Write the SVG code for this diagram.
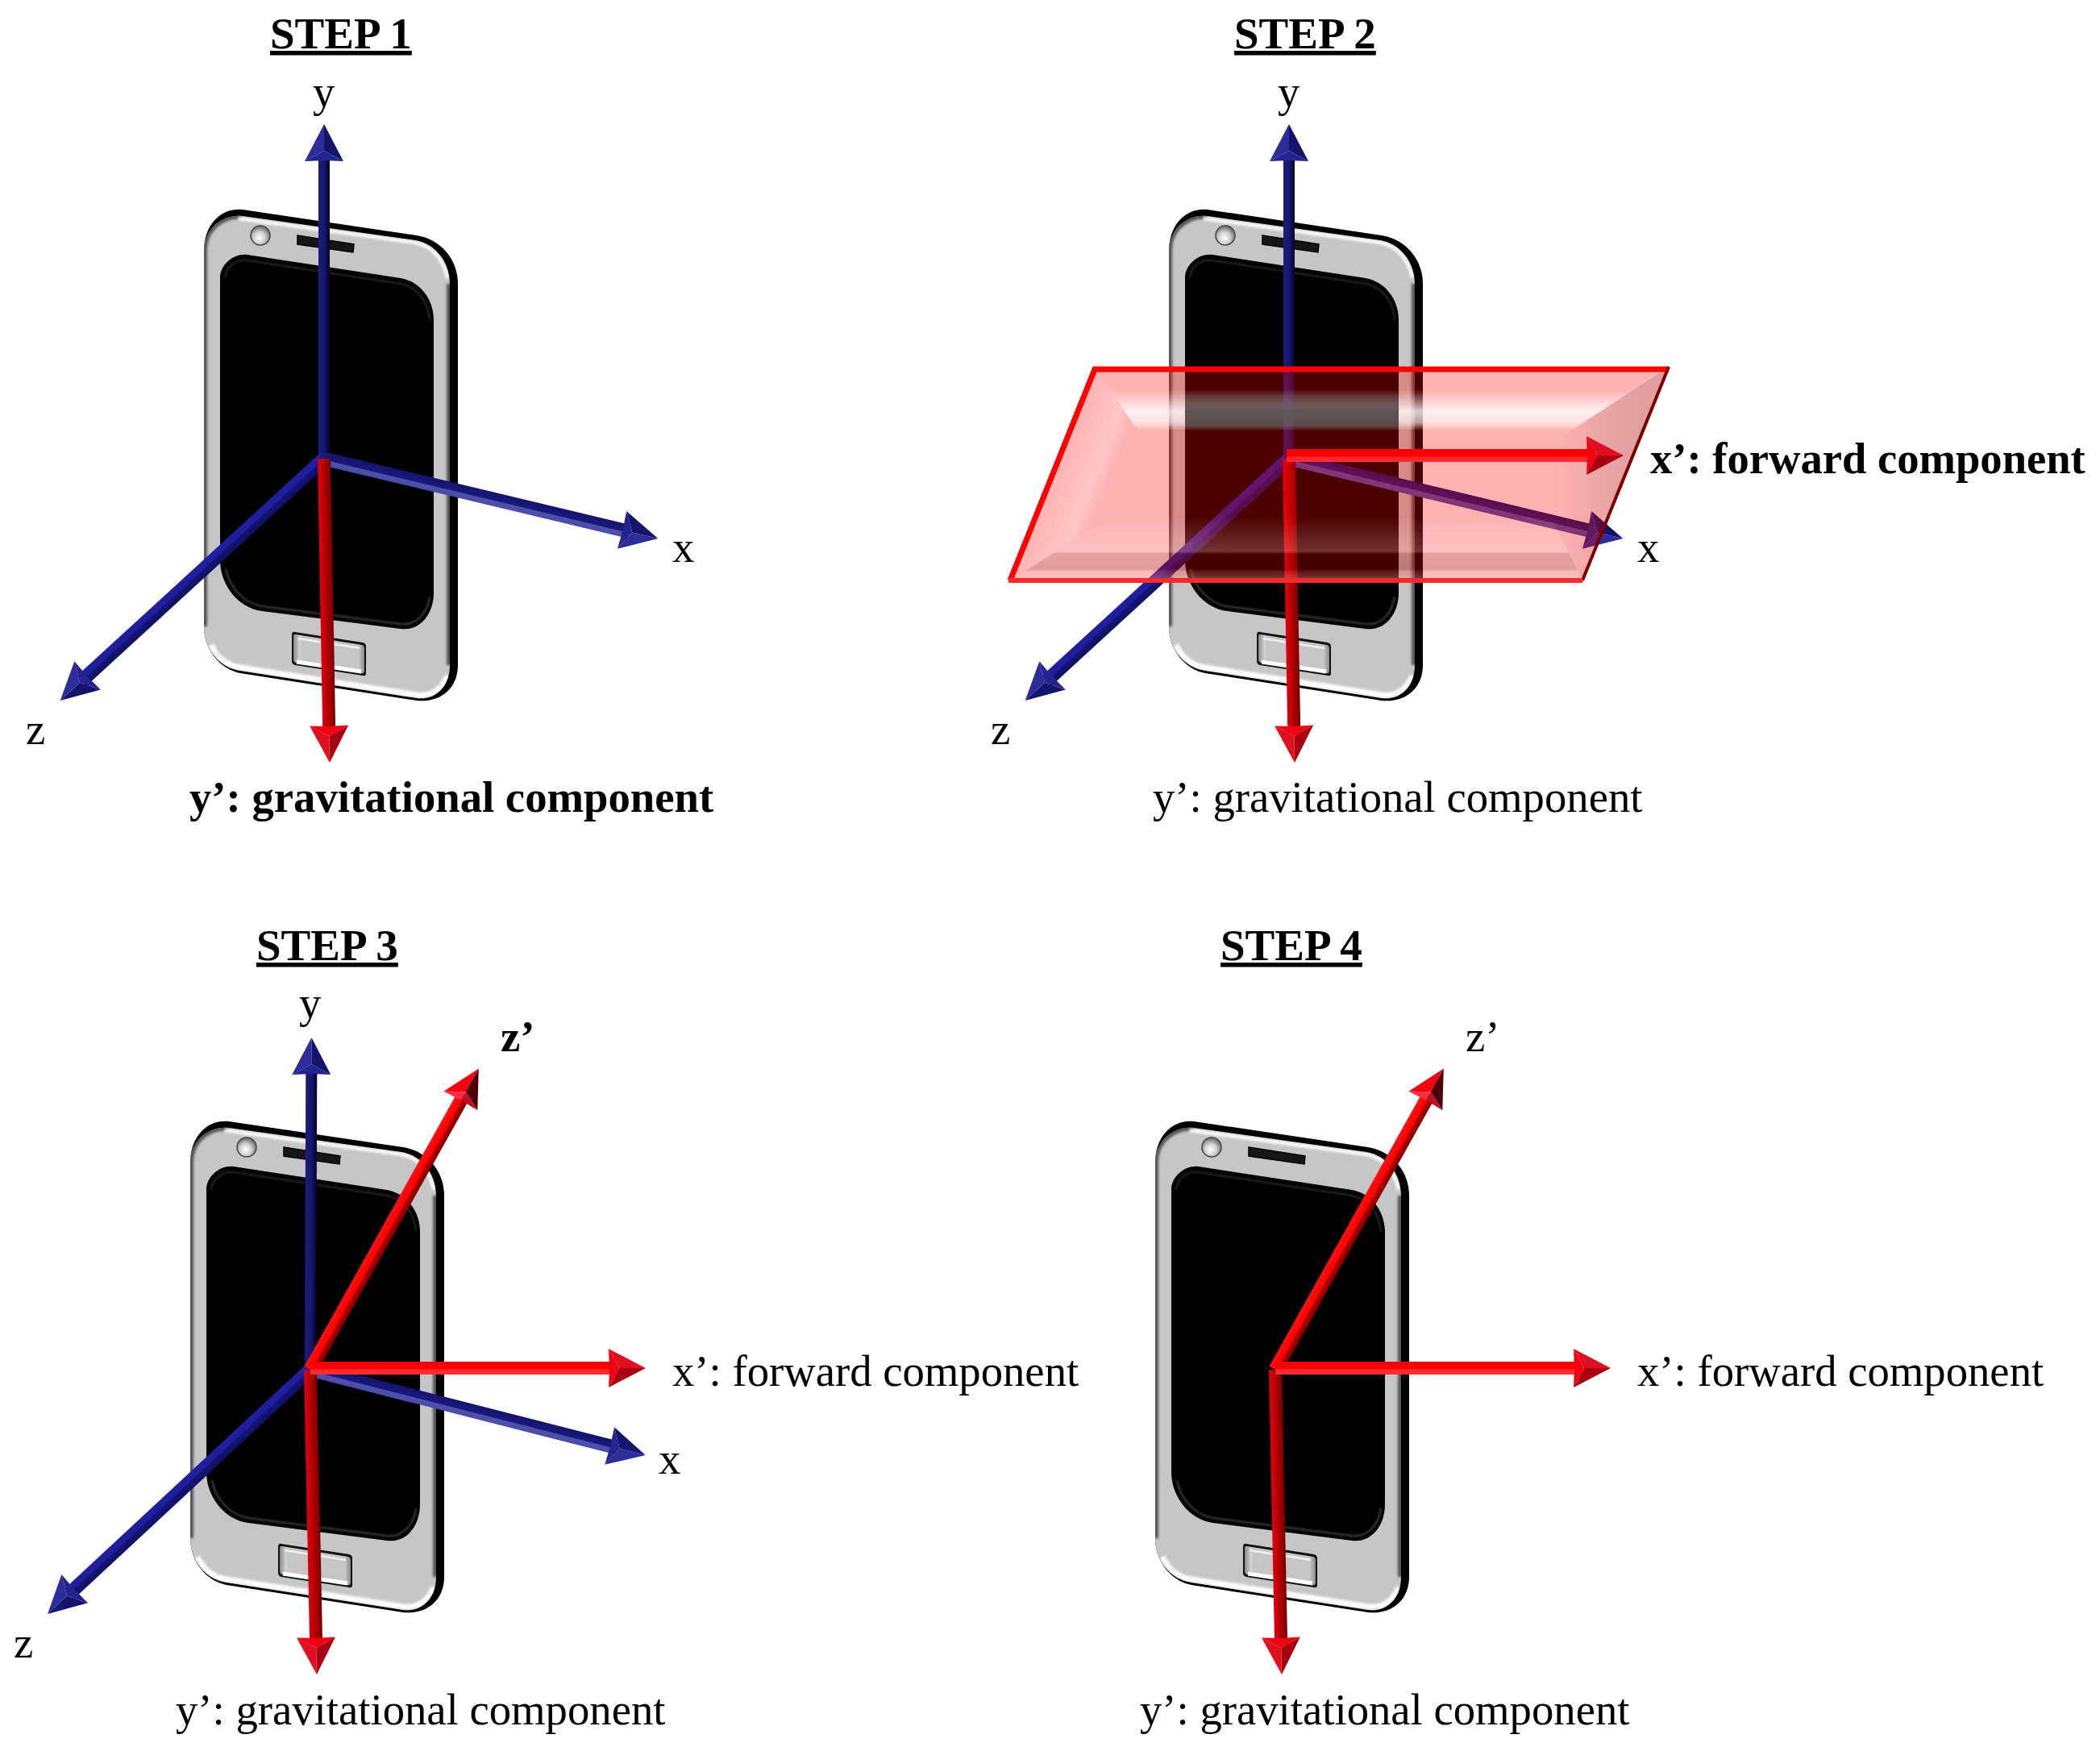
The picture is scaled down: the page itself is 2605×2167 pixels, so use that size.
<svg xmlns="http://www.w3.org/2000/svg" xmlns:xlink="http://www.w3.org/1999/xlink" width="2605" height="2167" viewBox="0 0 2605 2167">
<style>
text{font-family:"Liberation Serif","Times New Roman",serif;font-size:54.7px;fill:#000}
.b{font-weight:bold}
.t{font-weight:bold;font-size:55px;text-decoration:underline}
.sy{fill:url(#sy)}.sx{fill:url(#sx)}.sz{fill:url(#sz)}
.rd{fill:url(#rd)}.rx{fill:url(#rx)}.rz{fill:url(#rz)}
</style>
<defs>
<filter id="soft" x="-5%" y="-5%" width="110%" height="110%"><feGaussianBlur stdDeviation="1.6"/></filter>
<filter id="soft2" x="-5%" y="-5%" width="110%" height="110%"><feGaussianBlur stdDeviation=".8"/></filter>
<linearGradient id="sy" x1="0" y1="0" x2="0" y2="1"><stop offset="0" stop-color="#1c1c7c"/><stop offset=".55" stop-color="#16166e"/><stop offset="1" stop-color="#04042a"/></linearGradient>
<linearGradient id="sx" x1="0" y1="0" x2="0" y2="1"><stop offset="0" stop-color="#14146c"/><stop offset=".55" stop-color="#18187c"/><stop offset=".62" stop-color="#5050ac"/><stop offset="1" stop-color="#4a4aa8"/></linearGradient>
<linearGradient id="sz" x1="0" y1="0" x2="0" y2="1"><stop offset="0" stop-color="#10105c"/><stop offset=".45" stop-color="#14147a"/><stop offset=".55" stop-color="#1e1e9c"/><stop offset="1" stop-color="#2020a0"/></linearGradient>
<linearGradient id="rd" x1="0" y1="0" x2="0" y2="1"><stop offset="0" stop-color="#780000"/><stop offset=".5" stop-color="#b00000"/><stop offset="1" stop-color="#e20010"/></linearGradient>
<linearGradient id="rx" x1="0" y1="0" x2="0" y2="1"><stop offset="0" stop-color="#f00000"/><stop offset=".3" stop-color="#ff0000"/><stop offset=".5" stop-color="#ff0000"/><stop offset=".55" stop-color="#ee0000"/><stop offset=".6" stop-color="#ff2028"/><stop offset="1" stop-color="#ff3038"/></linearGradient>
<linearGradient id="rz" x1="0" y1="0" x2="0" y2="1"><stop offset="0" stop-color="#ff1010"/><stop offset=".55" stop-color="#ff0000"/><stop offset=".62" stop-color="#b00000"/><stop offset="1" stop-color="#800000"/></linearGradient>
<radialGradient id="cam" cx=".45" cy=".62" r=".55"><stop offset="0" stop-color="#fff"/><stop offset=".55" stop-color="#d0d0d0"/><stop offset="1" stop-color="#777"/></radialGradient>
<linearGradient id="btnF" x1="0" y1="0" x2="1" y2="0"><stop offset="0" stop-color="#8a8a8a"/><stop offset=".09" stop-color="#d4d4d4"/><stop offset=".12" stop-color="#c6c6c6"/><stop offset=".92" stop-color="#c6c6c6"/><stop offset="1" stop-color="#8a8a8a"/></linearGradient>
<linearGradient id="pTop" gradientUnits="userSpaceOnUse" x1="0" y1="455" x2="0" y2="540"><stop offset=".33" stop-color="#fff" stop-opacity="0"/><stop offset=".65" stop-color="#fff" stop-opacity=".8"/><stop offset=".82" stop-color="#fff" stop-opacity=".6"/><stop offset=".93" stop-color="#fff" stop-opacity="0"/></linearGradient>
<linearGradient id="pTopDark" gradientUnits="userSpaceOnUse" x1="0" y1="455" x2="0" y2="540"><stop offset=".33" stop-color="#000" stop-opacity="0"/><stop offset=".65" stop-color="#000" stop-opacity=".58"/><stop offset=".82" stop-color="#000" stop-opacity=".5"/><stop offset=".93" stop-color="#000" stop-opacity="0"/></linearGradient>
<linearGradient id="pBot" gradientUnits="userSpaceOnUse" x1="0" y1="640" x2="0" y2="720"><stop offset="0" stop-color="#fff" stop-opacity="0"/><stop offset=".55" stop-color="#fff" stop-opacity=".2"/><stop offset=".6" stop-color="#000" stop-opacity=".1"/><stop offset=".82" stop-color="#000" stop-opacity=".12"/><stop offset=".87" stop-color="#fff" stop-opacity=".1"/><stop offset="1" stop-color="#fff" stop-opacity=".25"/></linearGradient>
<linearGradient id="pLeft" gradientUnits="userSpaceOnUse" x1="1305" y1="590" x2="1368" y2="615"><stop offset="0" stop-color="#fff" stop-opacity="0"/><stop offset=".72" stop-color="#fff" stop-opacity=".26"/><stop offset="1" stop-color="#fff" stop-opacity="0"/></linearGradient>
<linearGradient id="pRight" gradientUnits="userSpaceOnUse" x1="1930" y1="590" x2="2035" y2="590"><stop offset="0" stop-color="#000" stop-opacity="0"/><stop offset="1" stop-color="#404040" stop-opacity=".16"/></linearGradient>
<clipPath id="bodyClip"><path d="M253 311C253 285 275 265 301 268L515 298C540 302 558 325 558 352L558 825C558 852 540 869 517 866L298 832C272 828 253 805 253 777Z"/></clipPath>
<g id="phone">
<path fill="#000" d="M253 311C253 278 275 257 301 260L517 292C547 297 568 322 568 352L568 825C568 855 545 872 517 869L298 835C272 830 253 805 253 777Z"/>
<path fill="#c6c6c6" d="M253 311C253 285 275 265 301 268L515 298C540 302 558 325 558 352L558 825C558 852 540 869 517 866L298 832C272 828 253 805 253 777Z"/>
<g clip-path="url(#bodyClip)">
<g filter="url(#soft)">
<path fill="none" stroke="#555" stroke-width="8" d="M253 777L253 311C253 285 275 265 301 268M558 352L558 825"/>
<path fill="none" stroke="#fff" stroke-width="4" d="M296 271L515 301C535 305 550 320 555 345"/>
<path fill="none" stroke="#fff" stroke-width="7" d="M262 800C270 818 284 826 298 828L517 862C535 864 548 855 555 838"/>
</g>
</g>
<path fill="#000" d="M273 345C273 328 290 314 307 316L497 345C520 349 538 370 538 397L538 735C538 763 520 783 497 780L325 758C295 754 273 725 273 695Z"/>
<g filter="url(#soft2)" fill="none" stroke-width="2">
<path stroke="#2c2c2c" d="M279 345C280 332 292 321 307 323L497 352C517 356 531 373 533 397"/>
<path stroke="#424242" d="M280 705C284 728 302 748 325 752L497 774C515 776 530 762 533 740"/>
</g>
<path fill="#161616" stroke="#000" stroke-width="1.5" d="M369 292L439 303L438 313L369 303Z"/>
<circle cx="323" cy="292" r="12" fill="url(#cam)" stroke="#444" stroke-width="1.5"/>
<path fill="#111" d="M366 784L450 797Q454 798 454 802L454 835Q454 839 450 838L366 825Q362 824 362 820L362 788Q362 783 366 784Z"/>
<path fill="url(#btnF)" d="M367 787L449 800Q452 801 452 804L452 832Q452 836 448 835L367 822Q364 821 364 818L364 790Q364 786 367 787Z"/>
<path fill="none" stroke="#f0f0f0" stroke-width="2.5" d="M370 792L446 804"/>
<path fill="none" stroke="#fff" stroke-width="5" d="M368 821L448 833"/>
</g>
<g id="hb">
<polygon points="0,0 -46,-24 -33,0" fill="#14146c"/>
<polygon points="0,0 -46,24 -33,0" fill="#2c2c9a"/>
<polygon points="-46,-24 -45,0 -46,24 -33,0" fill="#24248e"/>
</g>
<g id="hr">
<polygon points="0,0 -46,-24 -33,0" fill="#a80010"/>
<polygon points="0,0 -46,24 -33,0" fill="#e01020"/>
<polygon points="-46,-24 -45,0 -46,24 -33,0" fill="#f00010"/>
</g>
<g id="hz">
<polygon points="0,0 -46,-24 -33,0" fill="#f40010"/>
<polygon points="0,0 -46,24 -33,0" fill="#4c0008"/>
<polygon points="-46,-24 -45,0 -33,0" fill="#f83040"/>
<polygon points="-46,24 -45,0 -33,0" fill="#c01020"/>
</g>
</defs>
<rect width="2605" height="2167" fill="#fff"/>

<g id="step1-phone"><use href="#phone"/></g>
<g id="step2-phone"><use href="#phone" transform="translate(1197 0)"/></g>
<g id="step3-phone"><use href="#phone" transform="translate(-17 1131)"/></g>
<g id="step4-phone"><use href="#phone" transform="translate(1180 1131)"/></g>

<g id="connectors">
<g id="step1-axes">
<g transform="translate(402 569) rotate(-90)"><rect y="-7" width="378" height="14" class="sy"/><use href="#hb" x="415" transform="scale(1 -1)"/></g>
<g transform="translate(402 569) rotate(137.5)"><rect y="-8.5" width="408" height="17" class="sz"/><use href="#hb" x="444"/></g>
<g transform="translate(402 569) rotate(13.45)"><rect y="-8.5" width="389" height="17" class="sx"/><use href="#hb" x="426"/></g>
<g transform="translate(402 569) rotate(88.94)"><rect y="-8" width="340" height="16" class="rd"/><use href="#hr" x="377"/></g>
</g>
<g id="step2-axes" transform="translate(1197 0)">
<g transform="translate(402 569) rotate(-90)"><rect y="-7" width="378" height="14" class="sy"/><use href="#hb" x="415" transform="scale(1 -1)"/></g>
<g transform="translate(402 569) rotate(137.5)"><rect y="-8.5" width="408" height="17" class="sz"/><use href="#hb" x="444"/></g>
<g transform="translate(402 569) rotate(13.45)"><rect y="-8.5" width="389" height="17" class="sx"/><use href="#hb" x="426"/></g>
<g transform="translate(402 569) rotate(88.94)"><rect y="-8" width="340" height="16" class="rd"/><use href="#hr" x="377"/></g>
</g>
</g>

<g id="step2-plane">
<polygon points="1358,455 2070,455 1963,720 1253,720" fill="#f00" fill-opacity=".3"/>
<polygon points="1358,455 2070,455 1940,540 1415,540" fill="url(#pTop)"/>
<rect x="1470" y="483" width="265" height="57" fill="url(#pTopDark)"/>
<polygon points="1253,720 1963,720 1923,640 1380,640" fill="url(#pBot)"/>
<polygon points="1358,455 1253,720 1380,640 1413,537" fill="url(#pLeft)"/>
<polygon points="2070,455 1963,720 1923,640 1940,540" fill="url(#pRight)"/>
<path d="M1253 720L1358 458L2070 458" fill="none" stroke="#f00" stroke-width="7"/>
<path d="M2070 455L1963 720" fill="none" stroke="#7c0000" stroke-width="4"/>
<path d="M1251 720L1963 720" fill="none" stroke="#ff2a2a" stroke-width="6"/>
</g>

<g id="connectors-over">
<g transform="translate(1596 565)"><rect y="-8" width="381" height="16" class="rx"/><use href="#hr" x="418" transform="scale(1 -1)"/></g>
<g id="step3-axes">
<g transform="translate(385 1699) rotate(-89.8)"><rect y="-7" width="375" height="14" class="sy"/><use href="#hb" x="412" transform="scale(1 -1)"/></g>
<g transform="translate(385 1699) rotate(137.1)"><rect y="-8.5" width="408" height="17" class="sz"/><use href="#hb" x="445"/></g>
<g transform="translate(385 1699) rotate(14.3)"><rect y="-8.5" width="392" height="17" class="sx"/><use href="#hb" x="429"/></g>
<g transform="translate(385 1699) rotate(88.8)"><rect y="-8" width="341" height="16" class="rd"/><use href="#hr" x="378"/></g>
<g transform="translate(385 1699) rotate(-60.8)"><rect y="-8.5" width="391" height="17" class="rz"/><use href="#hz" x="428"/></g>
<g transform="translate(385 1697)"><rect y="-8" width="379" height="16" class="rx"/><use href="#hr" x="416" transform="scale(1 -1)"/></g>
</g>
<g id="step4-axes" transform="translate(1197 0)">
<g transform="translate(385 1699) rotate(88.8)"><rect y="-8" width="341" height="16" class="rd"/><use href="#hr" x="378"/></g>
<g transform="translate(385 1699) rotate(-60.8)"><rect y="-8.5" width="391" height="17" class="rz"/><use href="#hz" x="428"/></g>
<g transform="translate(385 1697)"><rect y="-8" width="379" height="16" class="rx"/><use href="#hr" x="416" transform="scale(1 -1)"/></g>
</g>
</g>

<g id="labels">
<text class="t" x="335" y="60">STEP 1</text>
<text x="388" y="132">y</text>
<text x="834" y="697">x</text>
<text x="32" y="923">z</text>
<text class="b" x="235" y="1007">y’: gravitational component</text>

<text class="t" x="1531" y="60">STEP 2</text>
<text x="1585" y="132">y</text>
<text x="2031" y="697">x</text>
<text x="1229" y="923">z</text>
<text class="b" x="2047" y="587" style="font-size:54.6px">x’: forward component</text>
<text x="1430" y="1007">y’: gravitational component</text>

<text class="t" x="318" y="1191">STEP 3</text>
<text x="371" y="1262">y</text>
<text x="817" y="1828">x</text>
<text x="17" y="2056">z</text>
<text class="b" x="621" y="1304">z’</text>
<text x="834" y="1719">x’: forward component</text>
<text x="218" y="2139">y’: gravitational component</text>

<text class="t" x="1514" y="1191">STEP 4</text>
<text x="1818" y="1304">z’</text>
<text x="2031" y="1719">x’: forward component</text>
<text x="1414" y="2139">y’: gravitational component</text>
</g>
</svg>
